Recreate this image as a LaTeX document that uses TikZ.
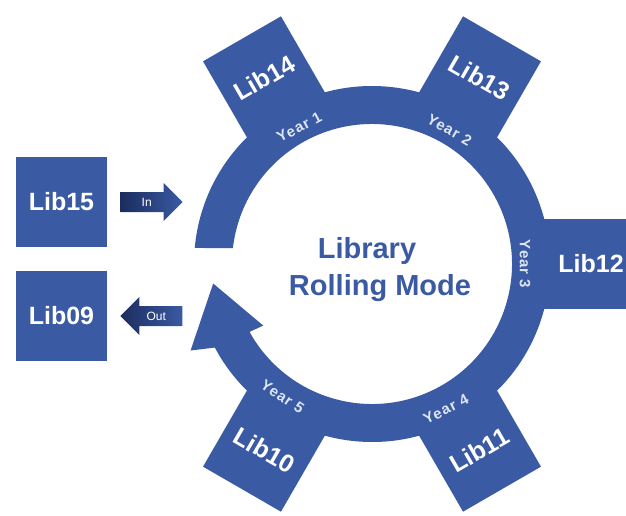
\documentclass[tikz,border=0pt]{standalone}
\usepackage{fontspec}
\setmainfont{Liberation Sans}
\usetikzlibrary{shapes.arrows}
\definecolor{libblue}{RGB}{58,90,163}
\definecolor{libdark}{RGB}{28,45,95}
\definecolor{yrtext}{RGB}{222,230,244}
\begin{document}
\begin{tikzpicture}[x=1pt,y=1pt,
  lib/.style={text=white,font=\bfseries\fontsize{25}{25}\selectfont},
  yr/.style={text=yrtext,font=\bfseries\fontsize{15}{15}\selectfont\addfontfeature{LetterSpace=7}},
  ttl/.style={text=libblue,anchor=base,font=\bfseries\fontsize{29}{29}\selectfont},
  flow/.style={single arrow,left color=libdark,right color=libblue,text=white,
    font=\fontsize{12}{12}\selectfont,minimum height=62pt,minimum width=38pt,
    single arrow head extend=9pt,text height=8.6pt,text depth=0pt,inner ysep=5.5pt}]
\useasboundingbox (-372,-251) rectangle (254,264);
\clip (-372,-251) rectangle (254,264);
% tabs
\foreach \a in {120,60,0,-60,-120}
  \fill[libblue,rotate=\a] (150,-45) rectangle (260,45);
% ring with its head
\fill[libblue] (174.84:178) arc (174.84:-152:178) -- (205.5:201) -- (187:160)
  -- (209.5:125) -- (-151:140) arc (-151:173.44:140) -- cycle;
\foreach \a/\k/\r/\d in {118/1/28/155,60/2/-30/155,0/3/-90/153,-63/4/27/163,236/5/-34/160}
  \node[yr,rotate=\r] (yr\k) at (\a:\d) {Year \k};
\foreach \a/\k/\r in {120/14/30,60/13/-30,-60/11/30,-120/10/-30}
  \node[lib,rotate=\r] (lib\k) at (\a:215) {Lib\k};
\node[lib] (lib12) at (0:219) {Lib12};
\node[ttl] (ttl1) at (-5,6) {Library};
\node[ttl] (ttl2) at (8,-31) {Rolling Mode};
% outside
\node[lib,fill=libblue,minimum width=91pt,minimum height=90pt] (lib15) at (-310.5,62) {Lib15};
\node[lib,fill=libblue,minimum width=91pt,minimum height=90pt] (lib09) at (-310.5,-52) {Lib09};
\node[flow,anchor=tip] (in) at (-189,62) {In};
\node[flow,shape border rotate=180,anchor=tip] (out) at (-252,-52) {Out};
\end{tikzpicture}
\end{document}
